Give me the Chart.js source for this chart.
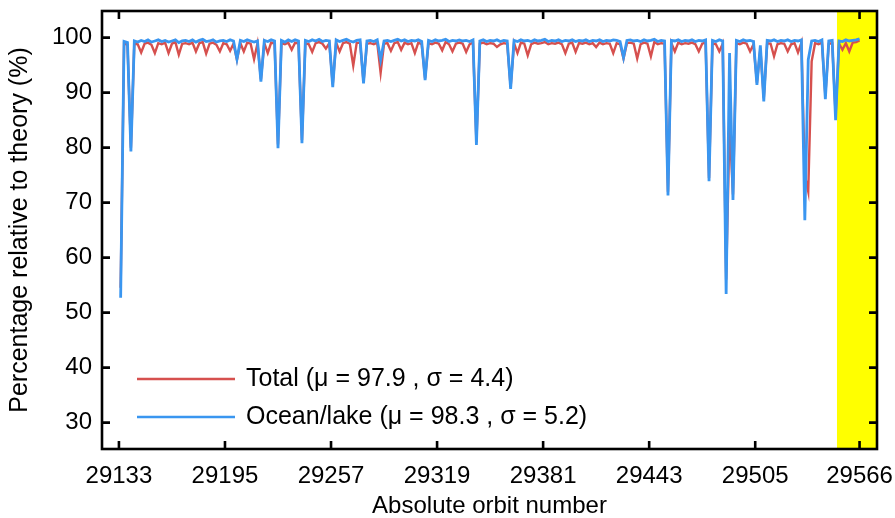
<!DOCTYPE html>
<html><head><meta charset="utf-8">
<script src="https://cdn.jsdelivr.net/npm/chart.js@4.4.0/dist/chart.umd.min.js"></script>
<style>html,body{margin:0;padding:0;background:#fff}#wrap{width:895px;height:518px;position:relative}</style>
</head><body><div id="wrap"><canvas id="c"></canvas></div>
<script>
// Orbit sampling of the series (every second absolute orbit)
const firstOrbit = 29134, orbitStep = 2;
const xTickLabels = [29133, 29195, 29257, 29319, 29381, 29443, 29505, 29566];
const yTickLabels = [30, 40, 50, 60, 70, 80, 90, 100];
const seriesNames = ['Total (\u03bc = 97.9 , \u03c3 = 4.4)', 'Ocean/lake (\u03bc = 98.3 , \u03c3 = 5.2)'];
const highlightStartOrbit = 29552.8;

const totalValues = [
  54.5, 99.0, 98.7, 80.0, 98.9, 98.8, 97.3, 98.9, 99.1, 98.7,
  97.2, 99.0, 98.8, 99.1, 97.2, 98.9, 99.2, 96.9, 98.9, 99.0,
  98.8, 99.1, 97.5, 99.0, 99.2, 97.1, 98.9, 99.1, 98.7, 97.5,
  99.0, 98.8, 97.6, 98.9, 96.0, 99.0, 97.5, 99.1, 98.9, 96.1,
  98.9, 92.4, 99.0, 97.2, 99.1, 98.9, 80.6, 99.0, 98.8, 99.1,
  97.8, 99.1, 98.9, 81.4, 99.0, 98.8, 97.4, 99.0, 99.2, 98.9,
  98.0, 99.0, 91.5, 99.1, 97.5, 99.0, 99.2, 98.9, 94.9, 99.0,
  99.1, 92.0, 98.9, 99.0, 98.8, 99.1, 93.6, 98.9, 99.0, 97.6,
  99.0, 99.2, 97.8, 99.1, 98.8, 99.0, 97.2, 99.1, 98.8, 92.6,
  99.0, 98.8, 99.1, 98.9, 97.7, 99.2, 98.8, 97.5, 98.9, 99.1,
  98.9, 97.4, 98.8, 99.1, 81.0, 98.9, 99.1, 98.8, 99.0, 98.9,
  98.3, 98.8, 99.0, 98.9, 91.0, 99.0, 97.2, 99.1, 98.9, 96.8,
  98.8, 99.1, 98.9, 99.0, 99.2, 98.8, 99.0, 98.9, 99.1, 98.8,
  97.2, 98.9, 99.1, 97.4, 99.0, 98.9, 99.1, 98.8, 99.0, 98.3,
  99.1, 98.8, 99.0, 98.9, 97.2, 99.0, 98.8, 96.2, 99.0, 99.1,
  98.9, 96.2, 98.8, 99.1, 98.9, 96.6, 99.2, 98.8, 99.0, 98.9,
  72.0, 99.0, 97.5, 99.1, 98.8, 99.0, 98.9, 99.1, 98.8, 97.5,
  98.9, 99.1, 74.5, 99.0, 98.8, 97.5, 98.9, 56.0, 84.0, 71.5,
  99.0, 98.8, 99.1, 98.9, 97.5, 98.8, 91.8, 98.0, 89.0, 99.0,
  98.9, 96.6, 98.8, 99.0, 98.9, 97.5, 98.8, 99.0, 97.3, 99.1,
  75.0, 72.0, 95.7, 99.0, 98.8, 99.1, 89.5, 98.9, 99.0, 86.0,
  98.9, 97.8, 99.0, 97.5, 99.1, 99.2, 99.5
];
const oceanValues = [
  52.7, 99.3, 99.1, 79.3, 99.4, 99.2, 99.5, 99.3, 99.6, 99.2,
  99.4, 99.6, 99.3, 99.5, 99.2, 99.4, 99.6, 99.1, 99.4, 99.5,
  99.3, 99.6, 99.2, 99.5, 99.7, 99.3, 99.4, 99.6, 99.2, 99.4,
  99.5, 99.3, 99.6, 99.4, 96.1, 99.5, 99.3, 99.6, 99.4, 99.2,
  99.4, 92.0, 99.5, 99.3, 99.6, 99.4, 79.9, 99.5, 99.2, 99.6,
  99.3, 99.6, 99.4, 80.8, 99.5, 99.3, 99.6, 99.4, 99.7, 99.3,
  99.5, 99.4, 91.0, 99.6, 99.3, 99.5, 99.7, 99.4, 99.2, 99.5,
  99.6, 91.7, 99.4, 99.5, 99.3, 99.6, 96.0, 99.4, 99.5, 99.3,
  99.5, 99.7, 99.4, 99.6, 99.3, 99.5, 99.4, 99.6, 99.3, 92.3,
  99.5, 99.3, 99.6, 99.4, 99.5, 99.7, 99.3, 99.5, 99.4, 99.6,
  99.4, 99.5, 99.3, 99.6, 80.5, 99.4, 99.6, 99.3, 99.5, 99.4,
  99.6, 99.3, 99.5, 99.4, 90.7, 99.5, 99.3, 99.6, 99.4, 99.5,
  99.3, 99.6, 99.4, 99.5, 99.7, 99.3, 99.5, 99.4, 99.6, 99.3,
  99.5, 99.4, 99.6, 99.3, 99.5, 99.4, 99.6, 99.3, 99.5, 99.4,
  99.6, 99.3, 99.5, 99.4, 99.6, 99.5, 99.3, 96.4, 99.5, 99.6,
  99.4, 99.5, 99.3, 99.6, 99.4, 99.5, 99.7, 99.3, 99.5, 99.4,
  71.3, 99.5, 99.4, 99.6, 99.3, 99.5, 99.4, 99.6, 99.3, 99.5,
  99.4, 99.6, 73.9, 99.5, 99.3, 99.6, 99.4, 53.4, 97.2, 70.5,
  99.5, 99.3, 99.6, 99.4, 99.5, 99.3, 91.4, 98.6, 88.4, 99.5,
  99.4, 99.6, 99.3, 99.5, 99.4, 99.6, 99.3, 99.5, 99.4, 99.6,
  66.8, 96.0, 99.4, 99.5, 99.3, 99.6, 88.8, 99.4, 99.5, 85.0,
  99.4, 99.3, 99.6, 99.4, 99.5, 99.6, 99.8
];

const orbits = totalValues.map((_, i) => firstOrbit + i * orbitStep);
const toPoints = vals => vals.map((v, i) => ({x: orbits[i], y: v}));

const RED = 'rgb(214,80,78)';
const BLUE = 'rgb(58,150,240)';
const FONT = '"Liberation Sans", Arial, sans-serif';

const noEdgePadding = s => { s.paddingTop = 0; s.paddingBottom = 0; s.paddingLeft = 0; s.paddingRight = 0; };

const framePlugin = {
  id: 'frame',
  beforeDatasetsDraw(chart) {
    const {ctx, chartArea: a, scales: {x}} = chart;
    const xs = x.getPixelForValue(highlightStartOrbit);
    ctx.save();
    ctx.fillStyle = '#ffff00';
    ctx.fillRect(xs, a.top, a.right - xs, a.bottom - a.top);
    ctx.restore();
  },
  afterDraw(chart) {
    const {ctx, chartArea: a, scales: {x, y}} = chart;
    ctx.save();
    ctx.strokeStyle = '#000';
    ctx.lineWidth = 2.6;
    const tl = 8;
    ctx.beginPath();
    xTickLabels.forEach(v => {
      const px = x.getPixelForValue(v);
      ctx.moveTo(px, a.bottom); ctx.lineTo(px, a.bottom - tl);
      ctx.moveTo(px, a.top); ctx.lineTo(px, a.top + tl);
    });
    yTickLabels.forEach(v => {
      const py = y.getPixelForValue(v);
      ctx.moveTo(a.left, py); ctx.lineTo(a.left + tl, py);
      ctx.moveTo(a.right, py); ctx.lineTo(a.right - tl, py);
    });
    ctx.stroke();
    ctx.strokeRect(a.left, a.top, a.right - a.left, a.bottom - a.top);

    // legend inside the plot area, lower left
    const colors = [RED, BLUE];
    const rows = [a.bottom - 70, a.bottom - 32];
    ctx.font = '25px ' + FONT;
    ctx.textBaseline = 'middle';
    ctx.textAlign = 'left';
    seriesNames.forEach((name, i) => {
      ctx.strokeStyle = colors[i];
      ctx.lineWidth = 2.5;
      ctx.beginPath();
      ctx.moveTo(a.left + 35, rows[i]);
      ctx.lineTo(a.left + 133, rows[i]);
      ctx.stroke();
      ctx.fillStyle = '#000';
      ctx.fillText(name, a.left + 144, rows[i]);
    });
    ctx.restore();
  }
};

new Chart(document.getElementById('c'), {
  type: 'line',
  data: {
    datasets: [
      {label: seriesNames[0], data: toPoints(totalValues), borderColor: RED, borderWidth: 2.4,
       pointRadius: 0, tension: 0, fill: false, order: 1},
      {label: seriesNames[1], data: toPoints(oceanValues), borderColor: BLUE, borderWidth: 2.8,
       pointRadius: 0, tension: 0, fill: false, order: 0}
    ]
  },
  options: {
    responsive: true,
    maintainAspectRatio: false,
    animation: false,
    layout: {padding: {top: 11, right: 18, left: 0, bottom: 0}},
    plugins: {legend: {display: false}, tooltip: {enabled: false}},
    scales: {
      x: {
        type: 'linear', min: 29123.1, max: 29576.2,
        afterBuildTicks: s => { s.ticks = xTickLabels.map(v => ({value: v})); },
        afterFit: s => { s.height = 69; noEdgePadding(s); },
        grid: {display: false, drawTicks: false},
        border: {display: false},
        ticks: {font: {family: FONT, size: 24}, color: '#000', padding: 13,
                maxRotation: 0, autoSkip: false, callback: v => String(v)},
        title: {display: true, text: 'Absolute orbit number', color: '#000',
                font: {family: FONT, size: 24, lineHeight: 1}, padding: {top: 0, bottom: 0}}
      },
      y: {
        type: 'linear', min: 25.2, max: 104.85,
        afterBuildTicks: s => { s.ticks = yTickLabels.map(v => ({value: v})); },
        afterFit: s => { s.width = 102; noEdgePadding(s); },
        grid: {display: false, drawTicks: false},
        border: {display: false},
        ticks: {font: {family: FONT, size: 24}, color: '#000', padding: 10,
                autoSkip: false, callback: v => String(v)},
        title: {display: true, text: 'Percentage relative to theory (%)', color: '#000',
                font: {family: FONT, size: 25, lineHeight: 1}, padding: {top: 8, bottom: 0}}
      }
    }
  },
  plugins: [framePlugin]
});
</script>
</body></html>
